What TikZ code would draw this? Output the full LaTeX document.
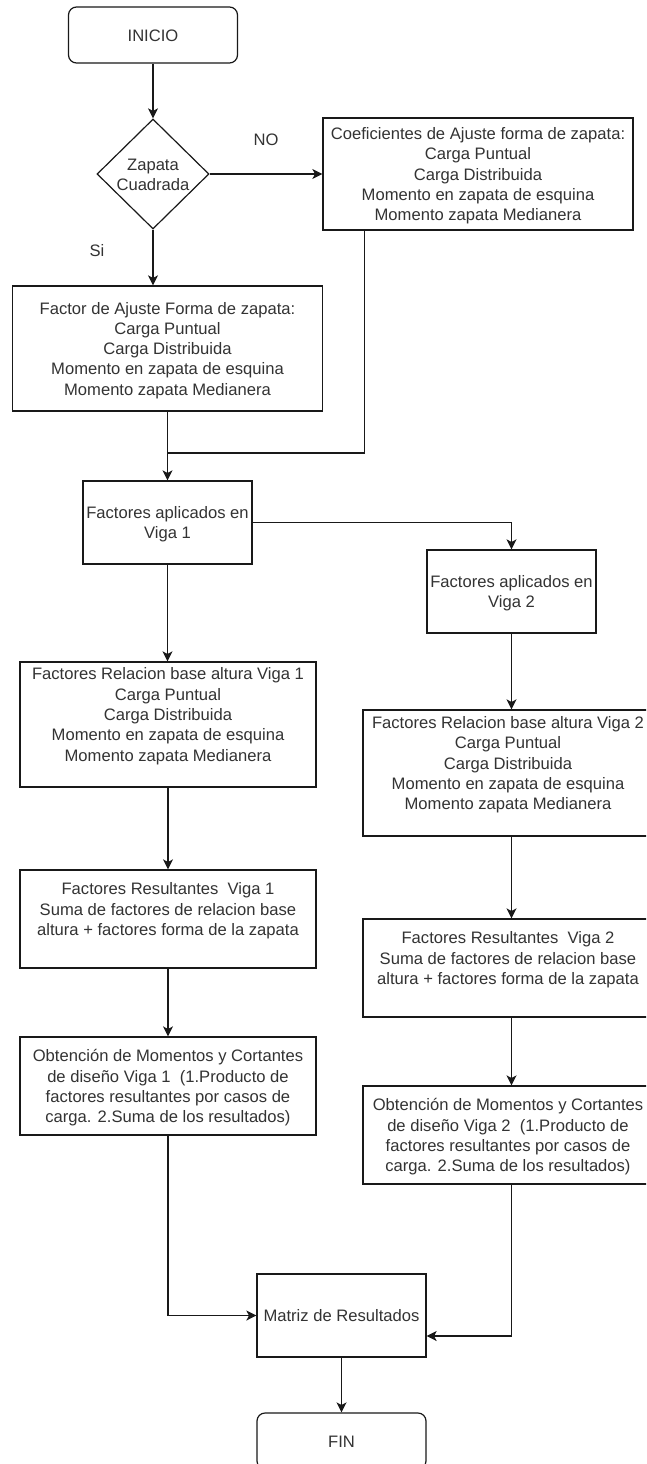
\documentclass[tikz,border=0pt]{standalone}
\usepackage{fontspec}
\setmainfont{Liberation Sans}
\usetikzlibrary{shapes.geometric,arrows.meta}

% one text row of fixed height, so multi-line boxes centre evenly
\newcommand{\rowstrut}{\rule[-4pt]{0pt}{20.3pt}}

\tikzset{
  ink/.style={draw=black!90, line width=1.2pt},
  words/.style={text=black!80, font=\fontsize{16.6}{20.3}\selectfont, align=center},
  box/.style={ink, rectangle, inner sep=0pt, words},
  terminal/.style={box, rounded corners=8pt},
  decision/.style={ink, diamond, inner sep=0pt},
  tag/.style={words, inner sep=0pt},
  flow/.style={ink, -{Stealth[length=10pt,width=10pt,inset=2.5pt]}},
  link/.style={ink}
}

\begin{document}
\begin{tikzpicture}[x=1pt,y=-1pt]
\useasboundingbox (0,0) rectangle (646,1464);
\fill[white] (0,0) rectangle (646,1464);
\clip (0,0) rectangle (646,1464);

% start and decision
\node[terminal, minimum width=169pt, minimum height=56pt] (ini) at (153,35) {\rowstrut INICIO};
\node[decision, minimum width=112pt, minimum height=110pt] (dec) at (153,174) {};
\node[tag] (dectext) at (dec.center) {\rowstrut Zapata\\ \rowstrut Cuadrada};

% shape factors
\node[box, minimum width=310pt, minimum height=112pt] (coef) at (478,174)
  {\rowstrut Coeficientes de Ajuste forma de zapata:\\ \rowstrut Carga Puntual\\ \rowstrut Carga Distribuida\\
   \rowstrut Momento en zapata de esquina\\ \rowstrut Momento zapata Medianera};
\node[box, minimum width=310pt, minimum height=125pt] (fact) at (167.5,348.5)
  {\rowstrut Factor de Ajuste Forma de zapata:\\ \rowstrut Carga Puntual\\ \rowstrut Carga Distribuida\\
   \rowstrut Momento en zapata de esquina\\ \rowstrut Momento zapata Medianera};

% beams
\node[box, minimum width=169pt, minimum height=83pt] (v1) at (167.5,522.5)
  {\rowstrut Factores aplicados en\\ \rowstrut Viga 1};
\node[box, minimum width=169pt, minimum height=83pt] (v2) at (511.5,591.5)
  {\rowstrut Factores aplicados en\\ \rowstrut Viga 2};

% beam 1 column
\node[box, minimum width=296pt, minimum height=125pt] (frb1) at (168,724.5)
  {\rowstrut Factores Relacion base altura Viga 1\\ \rowstrut Carga Puntual\\ \rowstrut Carga Distribuida\\
   \rowstrut Momento en zapata de esquina\\ \rowstrut Momento zapata Medianera\\ \rowstrut};
\node[box, minimum width=296pt, minimum height=98pt] (fr1) at (168,919)
  {\rowstrut Factores Resultantes~ Viga 1\\ \rowstrut Suma de factores de relacion base\\
   \rowstrut altura + factores forma de la zapata\\ \rowstrut};
\node[box, minimum width=296pt, minimum height=98pt] (ob1) at (168,1086)
  {\rowstrut Obtención de Momentos y Cortantes\\ \rowstrut de diseño Viga 1~ (1.Producto de\\
   \rowstrut factores resultantes por casos de\\ \rowstrut carga. 2.Suma de los resultados)};

% beam 2 column
\node[box, minimum width=290pt, minimum height=126pt] (frb2) at (508,773)
  {\rowstrut Factores Relacion base altura Viga 2\\ \rowstrut Carga Puntual\\ \rowstrut Carga Distribuida\\
   \rowstrut Momento en zapata de esquina\\ \rowstrut Momento zapata Medianera\\ \rowstrut};
\node[box, minimum width=290pt, minimum height=98pt] (fr2) at (508,968)
  {\rowstrut Factores Resultantes~ Viga 2\\ \rowstrut Suma de factores de relacion base\\
   \rowstrut altura + factores forma de la zapata\\ \rowstrut};
\node[box, minimum width=290pt, minimum height=98pt] (ob2) at (508,1135)
  {\rowstrut Obtención de Momentos y Cortantes\\ \rowstrut de diseño Viga 2~ (1.Producto de\\
   \rowstrut factores resultantes por casos de\\ \rowstrut carga. 2.Suma de los resultados)};

% results and end
\node[box, minimum width=169pt, minimum height=83pt] (mat) at (341.5,1315.5) {\rowstrut Matriz de Resultados};
\node[terminal, minimum width=169pt, minimum height=56pt] (fin) at (341.5,1441) {\rowstrut FIN};

% branch labels
\node[tag] (nolabel) at (266,139) {\rowstrut NO};
\node[tag] (silabel) at (97,250) {\rowstrut Si};

% connectors
\coordinate (cdrop) at ([xshift=42pt]coef.south west);
\coordinate (join) at (167.5,453);
\coordinate (matin) at ([yshift=-20.5pt]mat.east);
\coordinate (v2drop) at (511.5,0);

\draw[flow] (ini) -- (dec);
\draw[flow] (dec.east) -- (coef.west);
\draw[flow] (dec.south) -- (dec.south |- fact.north);
\draw[link] (cdrop) |- (join);
\draw[flow] (fact.south) -- (v1.north);
\draw[flow] (v1.east) -| (v2.north);
\draw[flow] (v1.south) -- (v1.south |- frb1.north);
\draw[flow] (v2.south) -- (v2.south |- frb2.north);
\draw[flow] (frb1) -- (fr1);
\draw[flow] (fr1) -- (ob1);
\draw[flow] (v2drop |- frb2.south) -- (v2drop |- fr2.north);
\draw[flow] (v2drop |- fr2.south) -- (v2drop |- ob2.north);
\draw[flow] (ob1.south) |- (mat.west);
\draw[flow] (v2drop |- ob2.south) |- (matin);
\draw[flow] (mat) -- (fin);
\end{tikzpicture}
\end{document}
